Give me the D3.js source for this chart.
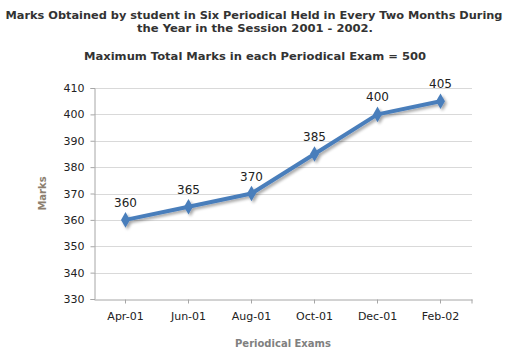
<!DOCTYPE html>
<html><head><meta charset="utf-8">
<script src="https://cdn.jsdelivr.net/npm/d3@7"></script>
<style>body{margin:0;background:#fff}svg{display:block}</style>
</head><body><div id="chart"></div>
<script>
const categories = ["Apr-01","Jun-01","Aug-01","Oct-01","Dec-01","Feb-02"];
const marks = [360, 365, 370, 385, 400, 405];
const yTicks = [330,340,350,360,370,380,390,400,410];
const titleLines = ["Marks Obtained by student in Six Periodical Held in Every Two Months During","the Year in the Session 2001 - 2002."];
const subtitle = "Maximum Total Marks in each Periodical Exam = 500";
const xTitle = "Periodical Exams";
const yTitle = "Marks";

const W = 513, H = 358;
const svg = d3.select("#chart").append("svg").attr("width", W).attr("height", H);
const font = "Verdana, 'DejaVu Sans', sans-serif";

const plot = {left: 94, right: 472, top: 88, bottom: 299};
const x = d3.scaleBand().domain(categories).range([plot.left, plot.right]);
const y = d3.scaleLinear().domain([330, 410]).range([plot.bottom, plot.top]);

// titles
svg.append("text").attr("x", 254).attr("y", 19).attr("text-anchor","middle")
  .attr("font-family", font).attr("font-weight","bold").attr("font-size", 11).attr("fill","#333")
  .attr("textLength", 497).attr("lengthAdjust","spacingAndGlyphs").text(titleLines[0]);
svg.append("text").attr("x", 255).attr("y", 32).attr("text-anchor","middle")
  .attr("font-family", font).attr("font-weight","bold").attr("font-size", 11).attr("fill","#333")
  .attr("textLength", 236).attr("lengthAdjust","spacingAndGlyphs").text(titleLines[1]);
svg.append("text").attr("x", 255).attr("y", 60).attr("text-anchor","middle")
  .attr("font-family", font).attr("font-weight","bold").attr("font-size", 11).attr("fill","#333")
  .attr("textLength", 342).attr("lengthAdjust","spacingAndGlyphs").text(subtitle);

// gridlines
svg.append("g").selectAll("line").data(yTicks.filter(d => d !== 330)).join("line")
  .attr("x1", plot.left).attr("x2", plot.right)
  .attr("y1", d => Math.round(y(d)) + 0.5).attr("y2", d => Math.round(y(d)) + 0.5)
  .attr("stroke", "#d9d9d9").attr("stroke-width", 1);

// y axis
const yAxis = svg.append("g").attr("transform", `translate(${plot.left + 0.5},0)`)
  .call(d3.axisLeft(y).tickValues(yTicks).tickSize(4).tickPadding(6).tickFormat(d3.format("d")));
yAxis.select(".domain").attr("stroke", "#a6a6a6");
yAxis.selectAll(".tick line").attr("stroke", "#a6a6a6");
yAxis.selectAll("text").attr("font-family", font).attr("font-size", 11).attr("fill", "#222");

// x axis
const xAxis = svg.append("g").attr("transform", `translate(0,${plot.bottom + 0.5})`)
  .call(d3.axisBottom(x).tickSize(4).tickSizeOuter(0).tickPadding(9));
xAxis.select(".domain").attr("stroke", "#a6a6a6");
xAxis.selectAll(".tick line").attr("stroke", "#a6a6a6");
xAxis.selectAll("text").attr("font-family", font).attr("font-size", 11).attr("fill", "#222");
xAxis.append("line").attr("x1", plot.right).attr("x2", plot.right).attr("y1", 0).attr("y2", 4).attr("stroke", "#a6a6a6");

// axis titles
svg.append("text").attr("transform", `translate(46,${(plot.top + plot.bottom)/2}) rotate(-90)`)
  .attr("text-anchor","middle").attr("font-family", font).attr("font-weight","bold")
  .attr("font-size", 10).attr("fill", "#8c7f70").text(yTitle);
svg.append("text").attr("x", (plot.left + plot.right)/2).attr("y", 347).attr("text-anchor","middle")
  .attr("font-family", font).attr("font-weight","bold").attr("font-size", 10).attr("fill", "#808080").text(xTitle);

// shadow filter
const defs = svg.append("defs");
const f = defs.append("filter").attr("id","sh").attr("x","-20%").attr("y","-20%").attr("width","140%").attr("height","140%");
f.append("feGaussianBlur").attr("in","SourceAlpha").attr("stdDeviation", 1.5).attr("result","b");
f.append("feOffset").attr("in","b").attr("dx", 1.5).attr("dy", 2).attr("result","o");
f.append("feComponentTransfer").attr("in","o").attr("result","o2").append("feFuncA").attr("type","linear").attr("slope", 0.35);
const m = f.append("feMerge"); m.append("feMergeNode").attr("in","o2"); m.append("feMergeNode").attr("in","SourceGraphic");

const cx = (d, i) => x(categories[i]) + x.bandwidth()/2;
const g = svg.append("g").attr("filter","url(#sh)");
g.append("path").datum(marks)
  .attr("d", d3.line().x(cx).y(d => y(d)))
  .attr("fill","none").attr("stroke","#4a7ebb").attr("stroke-width", 4).attr("stroke-linejoin","round");
g.selectAll("path.m").data(marks).join("path").attr("class","m")
  .attr("transform", (d, i) => `translate(${cx(d, i)},${y(d)})`)
  .attr("d", d3.symbol(d3.symbolDiamond, 70)())
  .attr("fill", "#4a7ebb");

// data labels
svg.append("g").selectAll("text").data(marks).join("text")
  .attr("x", cx).attr("y", d => y(d) - 13).attr("text-anchor","middle")
  .attr("font-family", font).attr("font-size", 12).attr("fill","#222").text(d => d);
</script></body></html>
